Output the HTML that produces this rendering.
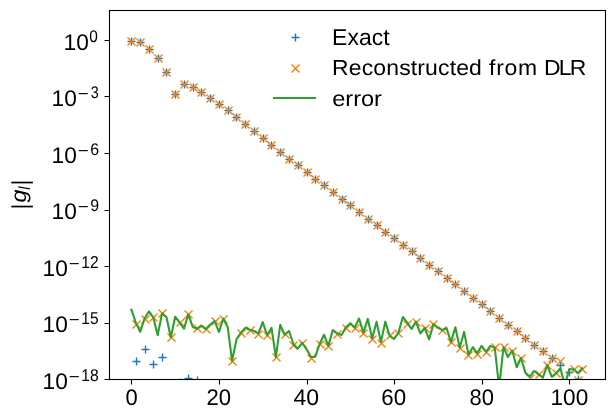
<!DOCTYPE html>
<html><head><meta charset="utf-8"><title>chart</title>
<style>
html,body{margin:0;padding:0;background:#fff}
svg{display:block;will-change:transform}
text{font-family:"Liberation Sans",sans-serif;fill:#000;white-space:pre;text-rendering:geometricPrecision}
</style></head>
<body>
<svg width="614" height="419" viewBox="0 0 614 419">
<rect width="614" height="419" fill="#fff"/>
<defs><clipPath id="ax"><rect x="108.857" y="9.678" width="496.000" height="369.600"/></clipPath></defs>
<g clip-path="url(#ax)">
<path d="M127.5 41.5h8M131.5 37.5v8M132.5 361.5h8M136.5 357.5v8M136.5 42.5h8M140.5 38.5v8M141.5 349.5h8M145.5 345.5v8M145.5 49.5h8M149.5 45.5v8M149.5 364.5h8M153.5 360.5v8M154.5 58.5h8M158.5 54.5v8M158.5 357.5h8M162.5 353.5v8M162.5 72.5h8M166.5 68.5v8M171.5 94.5h8M175.5 90.5v8M176.5 382.5h8M180.5 378.5v8M180.5 84.5h8M184.5 80.5v8M184.5 378.5h8M188.5 374.5v8M189.5 87.5h8M193.5 83.5v8M193.5 380.5h8M197.5 376.5v8M197.5 92.5h8M201.5 88.5v8M206.5 98.5h8M210.5 94.5v8M215.5 104.5h8M219.5 100.5v8M224.5 110.5h8M228.5 106.5v8M232.5 117.5h8M236.5 113.5v8M241.5 124.5h8M245.5 120.5v8M250.5 131.5h8M254.5 127.5v8M259.5 138.5h8M263.5 134.5v8M267.5 145.5h8M271.5 141.5v8M276.5 152.5h8M280.5 148.5v8M285.5 159.5h8M289.5 155.5v8M294.5 165.5h8M298.5 161.5v8M303.5 172.5h8M307.5 168.5v8M311.5 179.5h8M315.5 175.5v8M320.5 185.5h8M324.5 181.5v8M329.5 192.5h8M333.5 188.5v8M338.5 199.5h8M342.5 195.5v8M346.5 205.5h8M350.5 201.5v8M355.5 212.5h8M359.5 208.5v8M364.5 219.5h8M368.5 215.5v8M373.5 225.5h8M377.5 221.5v8M381.5 232.5h8M385.5 228.5v8M390.5 238.5h8M394.5 234.5v8M399.5 245.5h8M403.5 241.5v8M408.5 251.5h8M412.5 247.5v8M416.5 258.5h8M420.5 254.5v8M425.5 265.5h8M429.5 261.5v8M434.5 271.5h8M438.5 267.5v8M443.5 278.5h8M447.5 274.5v8M451.5 284.5h8M455.5 280.5v8M460.5 291.5h8M464.5 287.5v8M469.5 298.5h8M473.5 294.5v8M478.5 304.5h8M482.5 300.5v8M486.5 311.5h8M490.5 307.5v8M495.5 318.5h8M499.5 314.5v8M504.5 325.5h8M508.5 321.5v8M513.5 331.5h8M517.5 327.5v8M521.5 338.5h8M525.5 334.5v8M530.5 345.5h8M534.5 341.5v8M539.5 351.5h8M543.5 347.5v8M548.5 358.5h8M552.5 354.5v8M556.5 365.5h8M560.5 361.5v8M565.5 372.5h8M569.5 368.5v8M574.5 379.5h8M578.5 375.5v8" stroke="#1f77b4" stroke-width="1.389" fill="none"/>
<path d="M127.5 37.5l8 8M132.5 320.5l8 8M136.5 38.5l8 8M141.5 315.5l8 8M145.5 45.5l8 8M149.5 313.5l8 8M154.5 54.5l8 8M158.5 309.5l8 8M162.5 68.5l8 8M167.5 333.5l8 8M171.5 90.5l8 8M176.5 318.5l8 8M180.5 80.5l8 8M184.5 310.5l8 8M189.5 83.5l8 8M193.5 324.5l8 8M197.5 88.5l8 8M202.5 325.5l8 8M206.5 94.5l8 8M211.5 317.5l8 8M215.5 100.5l8 8M219.5 315.5l8 8M224.5 106.5l8 8M228.5 357.5l8 8M232.5 113.5l8 8M237.5 329.5l8 8M241.5 120.5l8 8M246.5 326.5l8 8M250.5 127.5l8 8M254.5 330.5l8 8M259.5 134.5l8 8M263.5 331.5l8 8M267.5 141.5l8 8M272.5 353.5l8 8M276.5 148.5l8 8M281.5 330.5l8 8M285.5 155.5l8 8M289.5 341.5l8 8M294.5 161.5l8 8M298.5 339.5l8 8M303.5 168.5l8 8M307.5 354.5l8 8M311.5 175.5l8 8M316.5 340.5l8 8M320.5 181.5l8 8M324.5 342.5l8 8M329.5 188.5l8 8M333.5 330.5l8 8M338.5 195.5l8 8M342.5 324.5l8 8M346.5 201.5l8 8M351.5 324.5l8 8M355.5 208.5l8 8M359.5 329.5l8 8M364.5 215.5l8 8M368.5 335.5l8 8M373.5 221.5l8 8M377.5 339.5l8 8M381.5 228.5l8 8M386.5 331.5l8 8M390.5 234.5l8 8M394.5 329.5l8 8M399.5 241.5l8 8M403.5 320.5l8 8M408.5 247.5l8 8M412.5 318.5l8 8M416.5 254.5l8 8M421.5 324.5l8 8M425.5 261.5l8 8M429.5 320.5l8 8M434.5 267.5l8 8M438.5 326.5l8 8M443.5 274.5l8 8M447.5 338.5l8 8M451.5 280.5l8 8M456.5 344.5l8 8M460.5 287.5l8 8M464.5 351.5l8 8M469.5 294.5l8 8M473.5 350.5l8 8M478.5 300.5l8 8M482.5 348.5l8 8M486.5 307.5l8 8M491.5 343.5l8 8M495.5 314.5l8 8M500.5 343.5l8 8M504.5 321.5l8 8M508.5 347.5l8 8M513.5 327.5l8 8M517.5 354.5l8 8M521.5 334.5l8 8M526.5 374.5l8 8M530.5 341.5l8 8M535.5 370.5l8 8M539.5 347.5l8 8M543.5 361.5l8 8M548.5 354.5l8 8M552.5 369.5l8 8M556.5 357.5l8 8M570.5 365.5l8 8M574.5 376.5l8 8M578.5 365.5l8 8" stroke="#ff7f0e" stroke-width="1.389" fill="none"/>
<path d="M127.5 45.5l8 -8M132.5 328.5l8 -8M136.5 46.5l8 -8M141.5 323.5l8 -8M145.5 53.5l8 -8M149.5 321.5l8 -8M154.5 62.5l8 -8M158.5 317.5l8 -8M162.5 76.5l8 -8M167.5 341.5l8 -8M171.5 98.5l8 -8M176.5 326.5l8 -8M180.5 88.5l8 -8M184.5 318.5l8 -8M189.5 91.5l8 -8M193.5 332.5l8 -8M197.5 96.5l8 -8M202.5 333.5l8 -8M206.5 102.5l8 -8M211.5 325.5l8 -8M215.5 108.5l8 -8M219.5 323.5l8 -8M224.5 114.5l8 -8M228.5 365.5l8 -8M232.5 121.5l8 -8M237.5 337.5l8 -8M241.5 128.5l8 -8M246.5 334.5l8 -8M250.5 135.5l8 -8M254.5 338.5l8 -8M259.5 142.5l8 -8M263.5 339.5l8 -8M267.5 149.5l8 -8M272.5 361.5l8 -8M276.5 156.5l8 -8M281.5 338.5l8 -8M285.5 163.5l8 -8M289.5 349.5l8 -8M294.5 169.5l8 -8M298.5 347.5l8 -8M303.5 176.5l8 -8M307.5 362.5l8 -8M311.5 183.5l8 -8M316.5 348.5l8 -8M320.5 189.5l8 -8M324.5 350.5l8 -8M329.5 196.5l8 -8M333.5 338.5l8 -8M338.5 203.5l8 -8M342.5 332.5l8 -8M346.5 209.5l8 -8M351.5 332.5l8 -8M355.5 216.5l8 -8M359.5 337.5l8 -8M364.5 223.5l8 -8M368.5 343.5l8 -8M373.5 229.5l8 -8M377.5 347.5l8 -8M381.5 236.5l8 -8M386.5 339.5l8 -8M390.5 242.5l8 -8M394.5 337.5l8 -8M399.5 249.5l8 -8M403.5 328.5l8 -8M408.5 255.5l8 -8M412.5 326.5l8 -8M416.5 262.5l8 -8M421.5 332.5l8 -8M425.5 269.5l8 -8M429.5 328.5l8 -8M434.5 275.5l8 -8M438.5 334.5l8 -8M443.5 282.5l8 -8M447.5 346.5l8 -8M451.5 288.5l8 -8M456.5 352.5l8 -8M460.5 295.5l8 -8M464.5 359.5l8 -8M469.5 302.5l8 -8M473.5 358.5l8 -8M478.5 308.5l8 -8M482.5 356.5l8 -8M486.5 315.5l8 -8M491.5 351.5l8 -8M495.5 322.5l8 -8M500.5 351.5l8 -8M504.5 329.5l8 -8M508.5 355.5l8 -8M513.5 335.5l8 -8M517.5 362.5l8 -8M521.5 342.5l8 -8M526.5 382.5l8 -8M530.5 349.5l8 -8M535.5 378.5l8 -8M539.5 355.5l8 -8M543.5 369.5l8 -8M548.5 362.5l8 -8M552.5 377.5l8 -8M556.5 365.5l8 -8M570.5 373.5l8 -8M574.5 384.5l8 -8M578.5 373.5l8 -8" stroke="#ff7f0e" stroke-width="1.389" fill="none"/>
<polyline points="131.4,309.58 135.78,322.61 140.16,331.92 144.53,318.52 148.91,311.44 153.29,317.4 157.67,335.27 162.04,313.4 166.42,317.03 170.8,337.3 175.18,316.66 179.56,322.61 183.93,328.75 188.31,314.4 192.69,326.96 197.07,328.75 201.44,325.96 205.82,329.13 210.2,324.47 214.58,321.12 218.96,331.92 223.33,318.52 227.71,327.26 232.09,360.77 236.47,339.36 240.84,332.85 245.22,327.82 249.6,329.68 253.98,330.99 258.36,333.41 262.73,322.18 267.11,335.27 271.49,327.82 275.87,357.04 280.24,324.84 284.62,334.71 289,330.99 293.38,344.01 297.75,348.67 302.13,342.95 306.51,349.07 310.89,357.04 315.27,356.67 319.64,344.01 324.02,334.71 328.4,345.88 332.78,330.06 337.15,333.3 341.53,335.11 345.91,327.26 350.29,323.17 354.67,327.82 359.04,318.52 363.42,332.85 367.8,318.89 372.18,338.43 376.55,321.68 380.93,342.15 385.31,321.68 389.69,336.01 394.07,338.99 398.44,332.7 402.82,316.96 407.2,322.61 411.58,329 415.95,321.68 420.33,333.41 424.71,327.82 429.09,339.36 433.47,323.97 437.84,327.56 442.22,330.06 446.6,328.2 450.98,342.15 455.35,327.26 459.73,347.74 464.11,331.92 468.49,354.62 472.87,347.18 477.24,353.32 481.62,345.88 486,351.83 490.38,345.88 494.75,347.74 499.13,387.2 503.51,347.18 507.89,357.04 512.27,350.53 516.64,367.28 521.02,357.97 525.4,372.86 529.78,376.59 534.15,371 538.53,374.35 542.91,377.52 547.29,365.05 551.66,376.59 556.04,373.24 560.42,368.21 564.8,385.5 569.18,369.3 573.55,369.3 577.93,373.3 582.31,368.3" stroke="#2ca02c" stroke-width="2.083" fill="none" stroke-linejoin="round" stroke-linecap="square"/>
</g>
<path d="M131.5 379.5v5M219.5 379.5v5M307.5 379.5v5M394.5 379.5v5M482.5 379.5v5M569.5 379.5v5M109.5 40.5h-5M109.5 96.5h-5M109.5 153.5h-5M109.5 210.5h-5M109.5 266.5h-5M109.5 323.5h-5M109.5 379.5h-5" stroke="#000" stroke-width="1.111" fill="none"/>
<rect x="109.5" y="10.5" width="496.0" height="369.0" fill="none" stroke="#000" stroke-width="1.111"/>
<path d="M291.5 37.5h8M295.5 33.5v8" stroke="#1f77b4" stroke-width="1.389" fill="none"/>
<path d="M291.5 64.5l8 8" stroke="#ff7f0e" stroke-width="1.389" fill="none"/>
<path d="M291.5 72.5l8 -8" stroke="#ff7f0e" stroke-width="1.389" fill="none"/>
<path d="M274 98H315" stroke="#2ca02c" stroke-width="2.083" fill="none" stroke-linecap="square"/>
<text transform="matrix(1.0459 0.0000 0.0000 1.0722 125.4809 404.7084)" font-size="21.0">0</text>
<text transform="matrix(1.0513 0.0000 0.0000 1.0738 206.4467 404.7316)" font-size="21.0">20</text>
<text transform="matrix(1.0955 0.0000 0.0000 1.0756 293.4522 404.7311)" font-size="21.0">40</text>
<text transform="matrix(1.0623 0.0000 0.0000 1.0709 381.3265 404.6931)" font-size="21.0">60</text>
<text transform="matrix(1.0442 0.0000 0.0000 1.0735 469.4863 404.7159)" font-size="21.0">80</text>
<text transform="matrix(1.0741 0.0000 0.0000 1.0756 550.5644 404.7311)" font-size="21.0">100</text>
<text transform="matrix(1.0800 0.0000 0.0000 1.0756 63.5548 49.7311)" font-size="21.0">10<tspan x="23.906" y="-7.400" font-size="15.673" textLength="7.940" lengthAdjust="spacingAndGlyphs">0</tspan></text>
<text transform="matrix(1.0800 0.0000 0.0000 1.0756 51.5548 105.7311)" font-size="21.0">10<tspan x="24.207" y="-6.425" font-size="15.057" textLength="10.150" lengthAdjust="spacingAndGlyphs">−</tspan><tspan x="36.203" y="-7.407" font-size="15.652" textLength="7.383" lengthAdjust="spacingAndGlyphs">3</tspan></text>
<text transform="matrix(1.0800 0.0000 0.0000 1.0756 51.5548 162.7311)" font-size="21.0">10<tspan x="24.207" y="-6.425" font-size="15.057" textLength="10.150" lengthAdjust="spacingAndGlyphs">−</tspan><tspan x="35.749" y="-7.407" font-size="15.673" textLength="8.197" lengthAdjust="spacingAndGlyphs">6</tspan></text>
<text transform="matrix(1.0800 0.0000 0.0000 1.0756 51.5548 218.7311)" font-size="21.0">10<tspan x="24.207" y="-6.425" font-size="15.057" textLength="10.150" lengthAdjust="spacingAndGlyphs">−</tspan><tspan x="35.756" y="-7.403" font-size="15.673" textLength="8.205" lengthAdjust="spacingAndGlyphs">9</tspan></text>
<text transform="matrix(1.0800 0.0000 0.0000 1.0756 42.5548 275.7311)" font-size="21.0">10<tspan x="24.207" y="-6.425" font-size="15.057" textLength="10.150" lengthAdjust="spacingAndGlyphs">−</tspan><tspan x="35.929" y="-7.188" font-size="16.019" textLength="16.059" lengthAdjust="spacingAndGlyphs">12</tspan></text>
<text transform="matrix(1.0800 0.0000 0.0000 1.0756 42.5548 331.7311)" font-size="21.0">10<tspan x="24.207" y="-6.425" font-size="15.057" textLength="10.150" lengthAdjust="spacingAndGlyphs">−</tspan><tspan x="35.935" y="-7.378" font-size="16.019" textLength="15.968" lengthAdjust="spacingAndGlyphs">15</tspan></text>
<text transform="matrix(1.0800 0.0000 0.0000 1.0756 42.5548 388.7311)" font-size="21.0">10<tspan x="24.207" y="-6.425" font-size="15.057" textLength="10.150" lengthAdjust="spacingAndGlyphs">−</tspan><tspan x="35.917" y="-7.375" font-size="15.750" textLength="16.224" lengthAdjust="spacingAndGlyphs">18</tspan></text>
<text transform="matrix(0.0000 -0.9950 1.0950 0.0000 27.7033 209.2381)" font-size="21.0">|<tspan x="6.882" y="-1.559" font-size="19.589" font-style="italic" textLength="12.955" lengthAdjust="spacingAndGlyphs">g</tspan><tspan x="19.685" y="2.019" font-size="14.864" font-style="italic" textLength="3.260" lengthAdjust="spacingAndGlyphs">l</tspan><tspan x="24.122" y="0.000" font-size="21.000" textLength="5.469" lengthAdjust="spacingAndGlyphs">|</tspan></text>
<text transform="matrix(1.0939 0.0000 0.0000 1.0940 332.0858 44.7265)" font-size="21.0">Exact</text>
<text transform="matrix(1.1226 0.0000 0.0000 1.0435 332.1707 105.7391)" font-size="21.0">error</text>
<text transform="matrix(1.0940 0.0000 0.0000 1.0323 0.0000 74.7419)" font-size="21.0"><tspan x="303.540" letter-spacing="0.129">Reconstructed</tspan> <tspan x="447.057" letter-spacing="0.635">from</tspan> <tspan x="497.317" letter-spacing="-1.724">DLR</tspan></text>
</svg>
</body></html>
